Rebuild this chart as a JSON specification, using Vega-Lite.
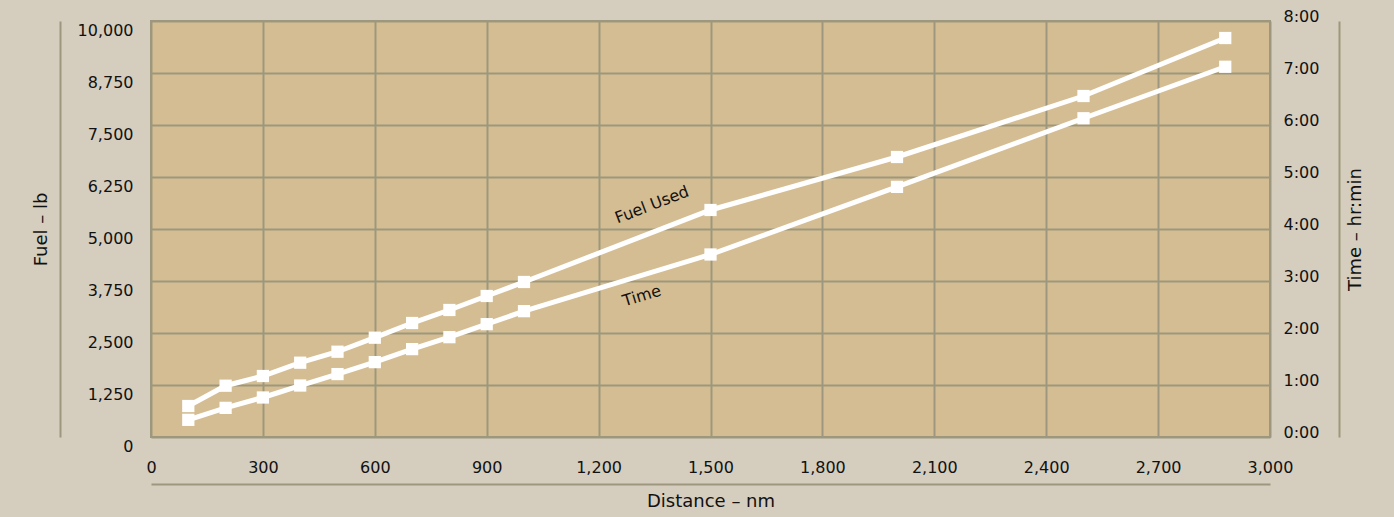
{
  "$schema": "https://vega.github.io/schema/vega-lite/v6.json",
  "width": 1119,
  "height": 416,
  "autosize": {"type": "none"},
  "padding": {"left": 151, "top": 21, "right": 124, "bottom": 80},
  "background": "#d5cdbd",
  "config": {
    "font": "DejaVu Sans",
    "view": {"fill": "#d5bd93", "stroke": "#9d977f", "strokeWidth": 2},
    "axis": {
      "domainColor": "#9d977f",
      "domainWidth": 2,
      "gridColor": "#9d977f",
      "gridWidth": 2,
      "gridOpacity": 1,
      "ticks": false,
      "tickSize": 0,
      "labelFontSize": 16,
      "labelColor": "#111111",
      "titleFontSize": 18,
      "titleFontWeight": "normal",
      "titleColor": "#111111",
      "labelFlush": false,
      "labelOverlap": false
    }
  },
  "datasets": {
    "perf": [
      {"dist": 100, "fuel": 745, "time": 0.33},
      {"dist": 200, "fuel": 1233, "time": 0.56},
      {"dist": 300, "fuel": 1466, "time": 0.76},
      {"dist": 400, "fuel": 1786, "time": 0.99},
      {"dist": 500, "fuel": 2050, "time": 1.21},
      {"dist": 600, "fuel": 2387, "time": 1.44},
      {"dist": 700, "fuel": 2740, "time": 1.69},
      {"dist": 800, "fuel": 3053, "time": 1.92},
      {"dist": 900, "fuel": 3390, "time": 2.17},
      {"dist": 1000, "fuel": 3726, "time": 2.42},
      {"dist": 1500, "fuel": 5457, "time": 3.51},
      {"dist": 2000, "fuel": 6731, "time": 4.81},
      {"dist": 2500, "fuel": 8197, "time": 6.13},
      {"dist": 2880, "fuel": 9591, "time": 7.12}
    ],
    "fuelLabel": [{"dist": 1343, "fuel": 5577, "label": "Fuel Used"}],
    "timeLabel": [{"dist": 1316, "time": 2.71, "label": "Time"}]
  },
  "layer": [
    {
      "layer": [
        {
          "data": {"name": "perf"},
          "mark": {
            "type": "line",
            "color": "white",
            "strokeWidth": 5,
            "point": {"shape": "square", "filled": true, "size": 150, "color": "white", "opacity": 1}
          },
          "encoding": {
            "x": {
              "field": "dist",
              "type": "quantitative",
              "scale": {"domain": [0, 3000], "nice": false, "zero": false},
              "axis": {
                "title": "Distance – nm",
                "values": [0, 300, 600, 900, 1200, 1500, 1800, 2100, 2400, 2700, 3000],
                "format": ",.0f",
                "offset": 47,
                "labelPadding": -25,
                "titlePadding": 8,
                "grid": true
              }
            },
            "y": {
              "field": "fuel",
              "type": "quantitative",
              "scale": {"domain": [0, 10000], "nice": false},
              "axis": {
                "title": "Fuel – lb",
                "values": [0, 1250, 2500, 3750, 5000, 6250, 7500, 8750, 10000],
                "format": ",.0f",
                "offset": 91,
                "labelPadding": -73,
                "labelOffset": 9,
                "titlePadding": 10,
                "grid": true
              }
            }
          }
        },
        {
          "data": {"name": "fuelLabel"},
          "mark": {"type": "text", "angle": -21, "fontSize": 16, "color": "#111111", "align": "center", "baseline": "middle"},
          "encoding": {
            "x": {"field": "dist", "type": "quantitative"},
            "y": {"field": "fuel", "type": "quantitative"},
            "text": {"field": "label"}
          }
        }
      ]
    },
    {
      "layer": [
        {
          "data": {"name": "perf"},
          "mark": {
            "type": "line",
            "color": "white",
            "strokeWidth": 5,
            "point": {"shape": "square", "filled": true, "size": 150, "color": "white", "opacity": 1}
          },
          "encoding": {
            "x": {"field": "dist", "type": "quantitative"},
            "y": {
              "field": "time",
              "type": "quantitative",
              "scale": {"domain": [0, 8], "nice": false},
              "axis": {
                "orient": "right",
                "title": "Time – hr:min",
                "values": [0, 1, 2, 3, 4, 5, 6, 7, 8],
                "labelExpr": "datum.value + ':00'",
                "offset": 69,
                "labelPadding": -56,
                "labelOffset": -5,
                "titlePadding": 7,
                "titleAngle": 270,
                "titleBaseline": "top",
                "grid": false
              }
            }
          }
        },
        {
          "data": {"name": "timeLabel"},
          "mark": {"type": "text", "angle": -17, "fontSize": 16, "color": "#111111", "align": "center", "baseline": "middle"},
          "encoding": {
            "x": {"field": "dist", "type": "quantitative"},
            "y": {"field": "time", "type": "quantitative"},
            "text": {"field": "label"}
          }
        }
      ]
    }
  ],
  "resolve": {"scale": {"y": "independent"}}
}
